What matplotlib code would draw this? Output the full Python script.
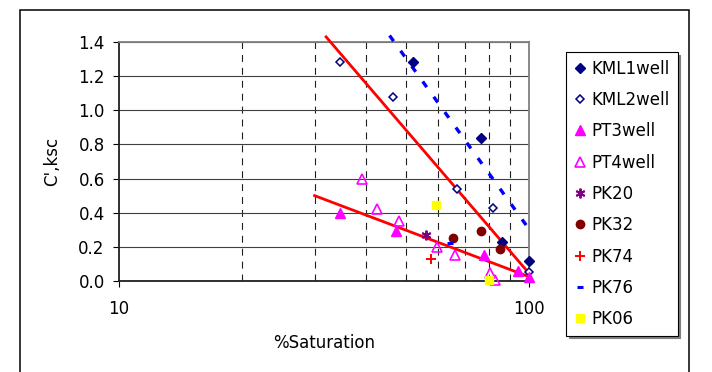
import matplotlib
matplotlib.use("Agg")
import matplotlib.pyplot as plt
from matplotlib.patches import Rectangle
from matplotlib.ticker import LogLocator, FixedLocator, FixedFormatter, NullFormatter

plt.rcParams["font.family"] = ["DejaVu Sans"]
plt.rcParams["lines.scale_dashes"] = False

# measured points, % saturation vs cohesion C' (ksc)
kml1_x = [52.2, 76.2, 86.1, 100]
kml1_y = [1.28, 0.84, 0.23, 0.12]
kml2_x = [34.5, 46.6, 66.6, 81.8, 100]
kml2_y = [1.28, 1.08, 0.54, 0.43, 0.055]
pt3_x = [34.5, 47.5, 77.5, 94.2, 100]
pt3_y = [0.40, 0.29, 0.15, 0.06, 0.025]
pt4_x = [39.1, 42.7, 48.2, 59.6, 66.1, 80.3, 82.6]
pt4_y = [0.60, 0.42, 0.35, 0.20, 0.15, 0.045, 0.005]
pk20_x = [56.0]
pk20_y = [0.27]
pk32_x = [65.4, 76.4, 85.0]
pk32_y = [0.25, 0.295, 0.19]
pk74_x = [57.6]
pk74_y = [0.13]
pk76_x = [64.2]
pk76_y = [0.22]
pk06_x = [59.3, 80.0]
pk06_y = [0.445, 0.005]

# trend lines (end points)
trend_hi_x = [32.0, 100]
trend_hi_y = [1.43, 0.045]
trend_lo_x = [30.0, 100]
trend_lo_y = [0.50, 0.025]
trend_blue_x = [45.7, 98.6]
trend_blue_y = [1.438, 0.325]

FS = 12

fig = plt.figure(figsize=(7.12, 3.72), dpi=100)
ax = fig.add_axes([119 / 712, 1 - 281 / 372, 410 / 712, 239 / 372])

# chart frame around everything
fig.patches.append(Rectangle((20 / 712, -0.05), 669 / 712, 1.05 - 10 / 372,
                             transform=fig.transFigure, fill=False,
                             edgecolor="black", linewidth=1.1))

ax.plot(trend_hi_x, trend_hi_y, color="#FF0000", lw=2.0, clip_on=False, zorder=3)
ax.plot(trend_lo_x, trend_lo_y, color="#FF0000", lw=2.0, clip_on=False, zorder=3)
ax.plot(trend_blue_x, trend_blue_y, color="#0000FF", lw=2.4, clip_on=False,
        linestyle=(0, (5.0, 8.6)), dash_capstyle="butt", zorder=3)

ax.plot(kml1_x, kml1_y, "D", color="#000080", ms=4.8, clip_on=False, zorder=4, label="KML1well")
ax.plot(kml2_x, kml2_y, "D", mfc="white", mec="#000080", mew=1.1, ms=4.2, clip_on=False, zorder=4, label="KML2well")
ax.plot(pt3_x, pt3_y, "^", color="#FF00FF", ms=7, clip_on=False, zorder=4, label="PT3well")
ax.plot(pt4_x, pt4_y, "^", mfc="none", mec="#FF00FF", mew=1.2, ms=7, clip_on=False, zorder=4, label="PT4well")
ax.plot(pk20_x, pk20_y, marker=(6, 2, 0), ls="none", color="#800080", mew=1.4, ms=7, clip_on=False, zorder=4, label="PK20")
ax.plot(pk32_x, pk32_y, "o", color="#800000", ms=6, clip_on=False, zorder=4, label="PK32")
ax.plot(pk74_x, pk74_y, "+", color="#FF0000", mew=1.4, ms=7, clip_on=False, zorder=4, label="PK74")
ax.plot(pk76_x, pk76_y, "_", color="#0000FF", mew=2.2, ms=4.5, clip_on=False, zorder=4, label="PK76")
ax.plot(pk06_x, pk06_y, "s", color="#FFFF00", ms=6, clip_on=False, zorder=4, label="PK06")

ax.set_xscale("log")
ax.set_xlim(10, 100)
ax.set_ylim(0, 1.4)
ax.xaxis.set_major_locator(FixedLocator([10, 100]))
ax.xaxis.set_major_formatter(FixedFormatter(["10", "100"]))
ax.xaxis.set_minor_locator(LogLocator(base=10, subs=range(2, 10)))
ax.xaxis.set_minor_formatter(NullFormatter())
ax.set_yticks([0.0, 0.2, 0.4, 0.6, 0.8, 1.0, 1.2, 1.4])
ax.set_yticklabels(["%.1f" % v for v in ax.get_yticks()])

ax.grid(axis="y", which="major", color="#404040", lw=0.8)
ax.grid(axis="x", which="minor", color="#202020", lw=0.8, linestyle=(0, (5, 4.3)))
ax.set_axisbelow(True)

ax.tick_params(axis="both", which="major", labelsize=FS, color="black", direction="out")
ax.tick_params(axis="y", length=4.3, pad=6)
ax.tick_params(axis="x", which="major", length=4, pad=10)
ax.tick_params(axis="x", which="minor", length=0)

for side in ("left", "bottom"):
    ax.spines[side].set_color("#202020")
    ax.spines[side].set_linewidth(1.3)
for side in ("top", "right"):
    ax.spines[side].set_color("#808080")
    ax.spines[side].set_linewidth(1.3)

ax.set_xlabel("%Saturation", fontsize=FS)
ax.set_ylabel("C',ksc", fontsize=FS)
ax.xaxis.set_label_coords(0.5, -0.22)
ax.yaxis.set_label_coords(-0.1415, 0.5)

leg = ax.legend(loc="upper left", bbox_to_anchor=(566 / 712, 1 - 52 / 372),
                bbox_transform=fig.transFigure, borderaxespad=0, fontsize=FS,
                frameon=True, fancybox=False, edgecolor="black", framealpha=1,
                shadow={"color": "#808080", "alpha": 1},
                handlelength=0.75, handletextpad=0.35, labelspacing=0.8,
                borderpad=0.45, numpoints=1)
leg.get_frame().set_linewidth(0.8)

fig.savefig("out.png", dpi=100)
